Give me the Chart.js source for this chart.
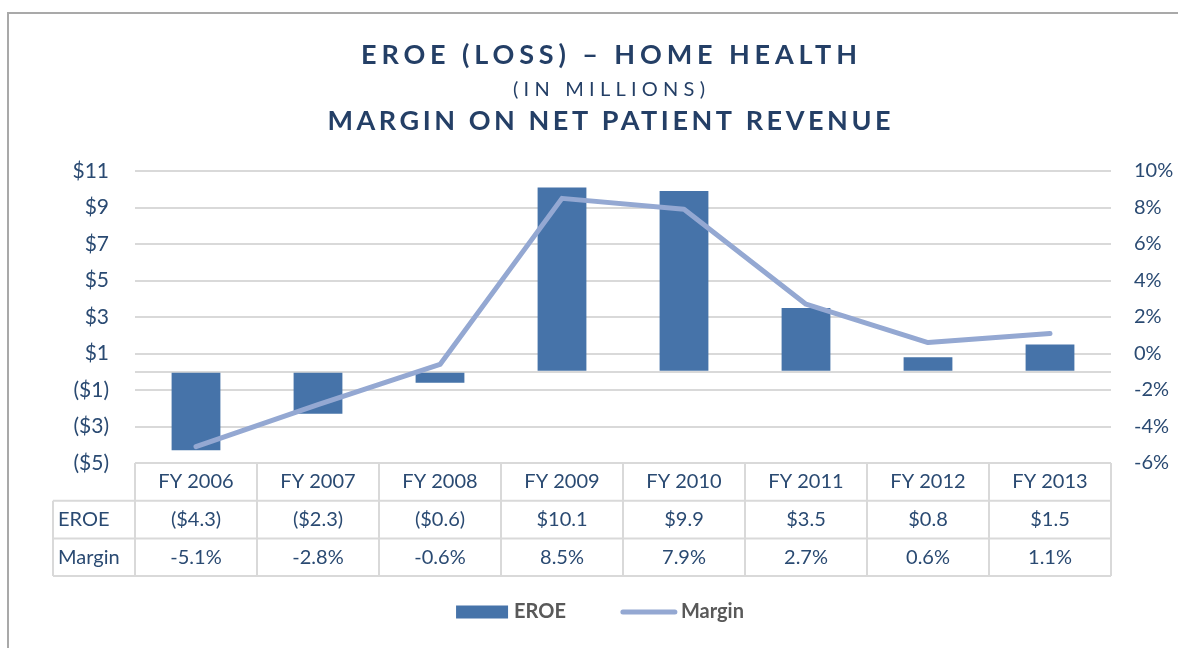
<!DOCTYPE html>
<html>
<head>
<meta charset="utf-8">
<script src="https://cdn.jsdelivr.net/npm/chart.js@4.4.1/dist/chart.umd.min.js"></script>
<style>
  html, body { margin: 0; padding: 0; background: #fff; overflow: hidden; }
  #frame { position: absolute; left: 7px; top: 12px; width: 1240px; height: 700px; border: 2px solid #a9a9a9; }
  #wrap { position: absolute; left: 0; top: 0; width: 1178px; height: 648px; }
</style>
</head>
<body>
<div id="frame"></div>
<div id="wrap"><canvas id="eroeChart" width="1178" height="648"></canvas></div>
<script>
var years = ['FY 2006', 'FY 2007', 'FY 2008', 'FY 2009', 'FY 2010', 'FY 2011', 'FY 2012', 'FY 2013'];
var eroe = [-4.3, -2.3, -0.6, 10.1, 9.9, 3.5, 0.8, 1.5];
var margin = [-5.1, -2.8, -0.6, 8.5, 7.9, 2.7, 0.6, 1.1];
var dollarTicks = [-5, -3, -1, 1, 3, 5, 7, 9, 11];
var pctTicks = [-6, -4, -2, 0, 2, 4, 6, 8, 10];

var barColor = '#4673a9';
var lineColor = '#94a8d2';
var textColor = '#2a4a72';
var titleColor = '#243f66';
var gridColor = '#d9d9d9';

Chart.defaults.font.family = 'Lato';

function money(v, digits) {
  var s = '$' + Math.abs(v).toFixed(digits);
  return v < 0 ? '(' + s + ')' : s;
}

// spread letters so a line of text fills the given width
function spaced(ctx, text, width) {
  ctx.letterSpacing = '0px';
  var w = ctx.measureText(text).width;
  return Math.max(0, (width - w) / (text.length - 1));
}

var extras = {
  id: 'extras',
  afterDraw: function (chart) {
    var ctx = chart.ctx;
    var area = chart.chartArea;
    var xs = chart.scales.x;
    ctx.save();

    // titles
    ctx.fillStyle = titleColor;
    ctx.textAlign = 'left';
    ctx.textBaseline = 'alphabetic';
    var titles = [
      { text: 'EROE (LOSS) \u2013 HOME HEALTH', font: 'bold 27px Lato', width: 496, y: 64 },
      { text: '(IN MILLIONS)', font: '20px Lato', width: 192, y: 96 },
      { text: 'MARGIN ON NET PATIENT REVENUE', font: 'bold 27px Lato', width: 563, y: 130 }
    ];
    titles.forEach(function (t) {
      ctx.font = t.font;
      var sp = spaced(ctx, t.text, t.width);
      ctx.letterSpacing = sp + 'px';
      ctx.fillText(t.text, 609 - t.width / 2, t.y);
    });
    ctx.letterSpacing = '0px';

    // data table under the plot
    var colW = (area.right - area.left) / years.length;
    var top = area.bottom;
    var rowH = 37.7;
    var labelLeft = 53;
    ctx.strokeStyle = gridColor;
    ctx.lineWidth = 2;
    ctx.beginPath();
    ctx.moveTo(area.left, top); ctx.lineTo(area.right, top);
    for (var r = 1; r <= 3; r++) {
      ctx.moveTo(labelLeft, top + r * rowH); ctx.lineTo(area.right, top + r * rowH);
    }
    ctx.moveTo(labelLeft, top + rowH); ctx.lineTo(labelLeft, top + 3 * rowH);
    for (var i = 0; i <= years.length; i++) {
      var xx = area.left + i * colW;
      ctx.moveTo(xx, top); ctx.lineTo(xx, top + 3 * rowH);
    }
    ctx.stroke();

    ctx.fillStyle = textColor;
    ctx.font = '20px Lato';
    ctx.textBaseline = 'middle';
    ctx.textAlign = 'left';
    ctx.fillText('EROE', labelLeft + 5, top + rowH * 1.5);
    ctx.fillText('Margin', labelLeft + 5, top + rowH * 2.5);
    ctx.textAlign = 'center';
    years.forEach(function (y, i) {
      var cx = xs.getPixelForValue(i);
      ctx.fillText(y, cx, top + rowH * 0.5);
      ctx.fillText(money(eroe[i], 1), cx, top + rowH * 1.5);
      ctx.fillText(margin[i].toFixed(1) + '%', cx, top + rowH * 2.5);
    });

    // legend
    var ly = 612;
    ctx.font = 'bold 20px Lato';
    ctx.textAlign = 'left';
    var w1 = ctx.measureText('EROE').width;
    var w2 = ctx.measureText('Margin').width;
    var total = 52 + 6 + w1 + 55 + 56 + 4 + w2;
    var lx = 600 - total / 2;
    ctx.fillStyle = barColor;
    ctx.fillRect(lx, ly - 6.5, 52, 13);
    ctx.fillStyle = '#595959';
    ctx.fillText('EROE', lx + 58, ly);
    lx += 58 + w1 + 55;
    ctx.strokeStyle = lineColor;
    ctx.lineWidth = 5;
    ctx.lineCap = 'round';
    ctx.beginPath();
    ctx.moveTo(lx + 2, ly); ctx.lineTo(lx + 54, ly);
    ctx.stroke();
    ctx.fillText('Margin', lx + 60, ly);

    ctx.restore();
  }
};

new Chart(document.getElementById('eroeChart'), {
  data: {
    labels: years,
    datasets: [{
      type: 'line',
      label: 'Margin',
      data: margin,
      yAxisID: 'y2',
      borderColor: lineColor,
      borderWidth: 5,
      borderCapStyle: 'round',
      borderJoinStyle: 'round',
      pointRadius: 0,
      tension: 0
    }, {
      type: 'bar',
      label: 'EROE',
      data: eroe,
      yAxisID: 'y',
      backgroundColor: barColor,
      barPercentage: 0.4,
      categoryPercentage: 1
    }]
  },
  options: {
    responsive: false,
    animation: false,
    layout: { padding: { top: 171, bottom: 185, left: 0, right: 0 } },
    plugins: {
      legend: { display: false },
      title: { display: false },
      tooltip: { enabled: false }
    },
    scales: {
      x: {
        offset: true,
        grid: { display: false },
        border: { display: false },
        ticks: { display: false },
        afterFit: function (s) { s.height = 0; }
      },
      y: {
        position: 'left',
        min: -5,
        max: 11,
        afterBuildTicks: function (s) {
          s.ticks = dollarTicks.concat([0]).sort(function (a, b) { return a - b; })
            .map(function (v) { return { value: v }; });
        },
        ticks: {
          autoSkip: false,
          padding: 26,
          color: textColor,
          font: { size: 21 },
          callback: function (v) { return v === 0 ? '' : money(v, 0); }
        },
        grid: { color: gridColor, lineWidth: 2, drawTicks: false },
        border: { display: false },
        afterFit: function (s) { s.width = 135; }
      },
      y2: {
        position: 'right',
        min: -6,
        max: 10,
        afterBuildTicks: function (s) {
          s.ticks = pctTicks.map(function (v) { return { value: v }; });
        },
        ticks: {
          padding: 23,
          color: textColor,
          font: { size: 20 },
          callback: function (v) { return v + '%'; }
        },
        grid: { display: false, drawTicks: false },
        border: { display: false },
        afterFit: function (s) { s.width = 67; }
      }
    }
  },
  plugins: [extras]
});
</script>
</body>
</html>
